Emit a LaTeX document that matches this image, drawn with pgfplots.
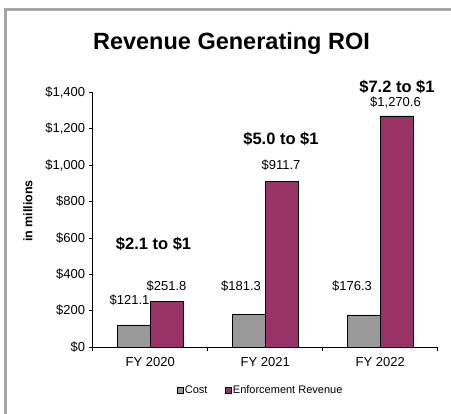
\documentclass[border=0pt]{standalone}
\usepackage{fontspec}
\setmainfont{Liberation Sans}
\usepackage{pgfplots}
\pgfplotsset{compat=1.18}
\definecolor{costgray}{RGB}{153,153,153}
\definecolor{plum}{RGB}{153,51,102}
\definecolor{framegray}{RGB}{166,166,166}
\begin{document}
\begin{tikzpicture}[x=1pt,y=1pt]
\begin{axis}[
  at={(92.7pt,67pt)}, anchor=south west,
  scale only axis, width=345pt, height=254.6pt,
  xmin=-0.5, xmax=2.5, ymin=0, ymax=1400,
  axis x line*=bottom, axis y line*=left,
  axis line style={black, line width=0.6pt},
  xtick={0,1,2}, xticklabels={FY 2020, FY 2021, FY 2022},
  minor xtick={-0.5,0.5,1.5,2.5},
  major x tick style={draw=none},
  minor tick length=4pt,
  minor x tick style={black, line width=0.6pt},
  ytick={0,200,...,1400},
  yticklabels={\$0,\$200,\$400,\$600,\$800,{\$1,000},{\$1,200},{\$1,400}},
  major tick length=4pt, tick align=outside,
  y tick style={black, line width=0.6pt},
  tick label style={font=\fontsize{13}{15}\selectfont},
  xticklabel style={yshift=-3pt},
  ybar=0pt, bar width=33pt,
  clip=false,
  legend columns=2,
  legend style={draw=none, fill=none, at={(0.486,-0.169)}, anchor=center,
    font=\fontsize{11}{13}\selectfont,
    /tikz/every even column/.append style={column sep=16pt},
    nodes={inner xsep=1.5pt, inner ysep=0pt}},
  legend image code/.code={\draw[#1, line width=0.5pt] (0pt,-3pt) rectangle (6pt,3pt);},
]
\addplot[fill=costgray, draw=black, line width=0.7pt] coordinates {(0,121.1) (1,181.3) (2,176.3)};
\addplot[fill=plum, draw=black, line width=0.7pt] coordinates {(0,251.8) (1,911.7) (2,1270.6)};
\legend{Cost, Enforcement Revenue}
\begin{scope}[every node/.style={font=\fontsize{13}{15}\selectfont, inner sep=0pt}]
\node at (axis cs:-0.18,258.5) {\$121.1};
\node at (axis cs:0.142,337) {\$251.8};
\node at (axis cs:0.79,335) {\$181.3};
\node at (axis cs:1.137,1001) {\$911.7};
\node at (axis cs:1.755,332) {\$176.3};
\node at (axis cs:2.133,1342) {\$1,270.6};
\end{scope}
\begin{scope}[every node/.style={font=\fontsize{16.5}{19}\selectfont\bfseries, inner sep=0pt}]
\node at (axis cs:0.029,566) {\$2.1 to \$1};
\node at (axis cs:1.137,1144) {\$5.0 to \$1};
\node at (axis cs:2.146,1430) {\$7.2 to \$1};
\end{scope}
\end{axis}
\node[font=\fontsize{23.5}{27}\selectfont\bfseries, inner sep=0pt] at (231.5,371) {Revenue Generating ROI};
\node[font=\fontsize{12.5}{15}\selectfont\bfseries, inner sep=0pt, rotate=90] at (28,203) {in millions};
\draw[framegray, line width=3pt] (5.5,0) -- (5.5,404.5) -- (451,404.5);
\pgfresetboundingbox
\path[use as bounding box] (0,0) rectangle (451,414);
\end{tikzpicture}
\end{document}
